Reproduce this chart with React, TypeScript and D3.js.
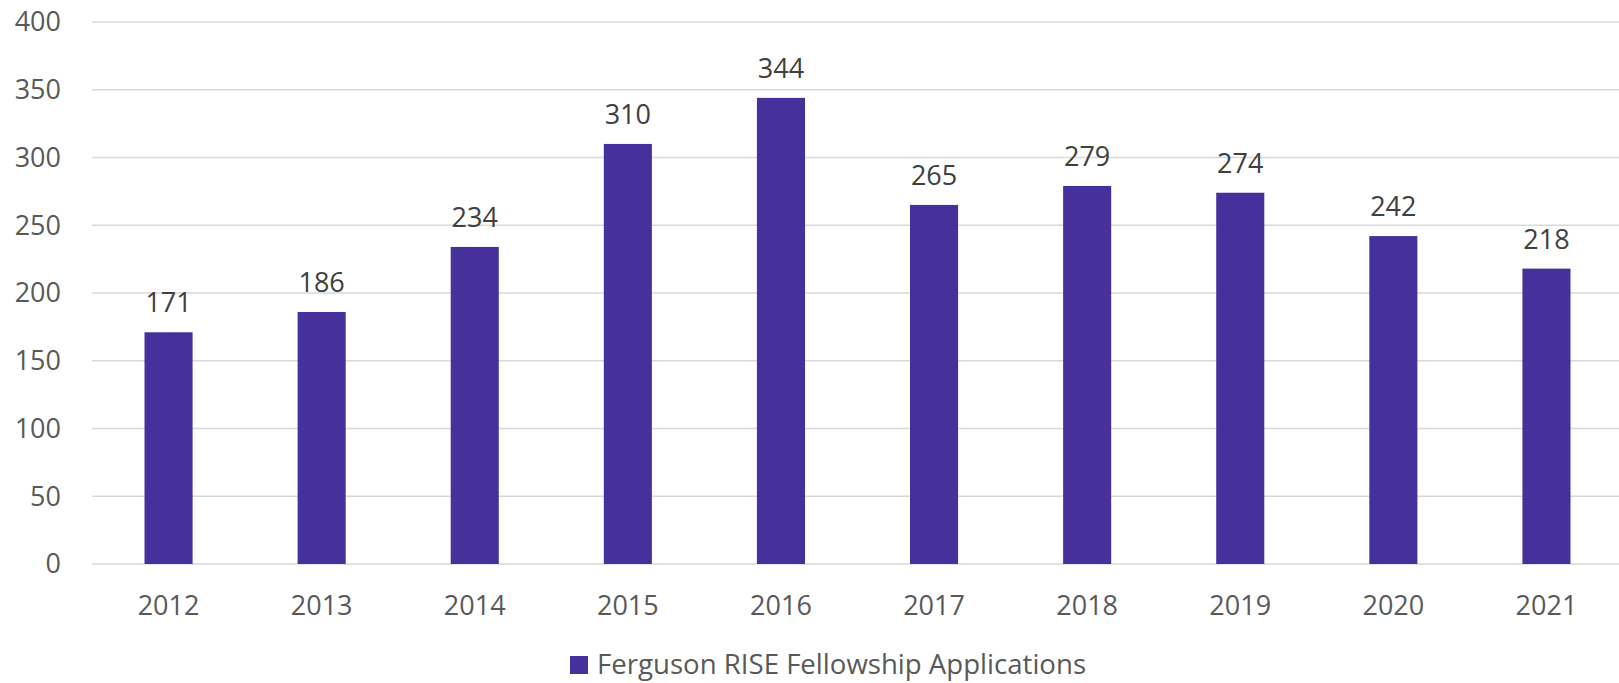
import React from "react";
import * as d3 from "d3";

const years = ["2012","2013","2014","2015","2016","2017","2018","2019","2020","2021"];
const applications = [171,186,234,310,344,265,279,274,242,218];
const yTicks = [0,50,100,150,200,250,300,350,400];
const seriesName = "Ferguson RISE Fellowship Applications";

const W = 1619, H = 683;
const FONT = "'Open Sans', sans-serif";
const TEXT = "#595959";
const BAR = "#45309c";

export default function App() {
  const x = d3.scaleBand<string>().domain(years).range([92, 1623]).paddingInner(0.686).paddingOuter(0.343);
  const y = d3.scaleLinear().domain([0, 400]).range([564, 22]);
  return (
    <svg width={W} height={H} style={{ position: "absolute", left: 0, top: 0, background: "#fff" }} fontFamily={FONT}>
      {yTicks.map(t => (
        <g key={t}>
          <line x1={92} x2={W} y1={y(t)} y2={y(t)} stroke="#d9d9d9" strokeWidth={1.5} />
          <text x={61} y={y(t)} dy="0.35em" textAnchor="end" fontSize={27} fill={TEXT}>{t}</text>
        </g>
      ))}
      {years.map((yr, i) => (
        <g key={yr}>
          <rect x={x(yr)} y={y(applications[i])} width={x.bandwidth()} height={y(0) - y(applications[i])} fill={BAR} />
          <text x={x(yr)! + x.bandwidth() / 2} y={y(applications[i]) - 20} textAnchor="middle" fontSize={27} fill="#404040">{applications[i]}</text>
          <text x={x(yr)! + x.bandwidth() / 2} y={615} textAnchor="middle" fontSize={27} fill={TEXT}>{yr}</text>
        </g>
      ))}
      <rect x={570} y={656} width={18} height={18} fill={BAR} />
      <text x={597} y={674} fontSize={27.6} fill={TEXT}>{seriesName}</text>
    </svg>
  );
}
